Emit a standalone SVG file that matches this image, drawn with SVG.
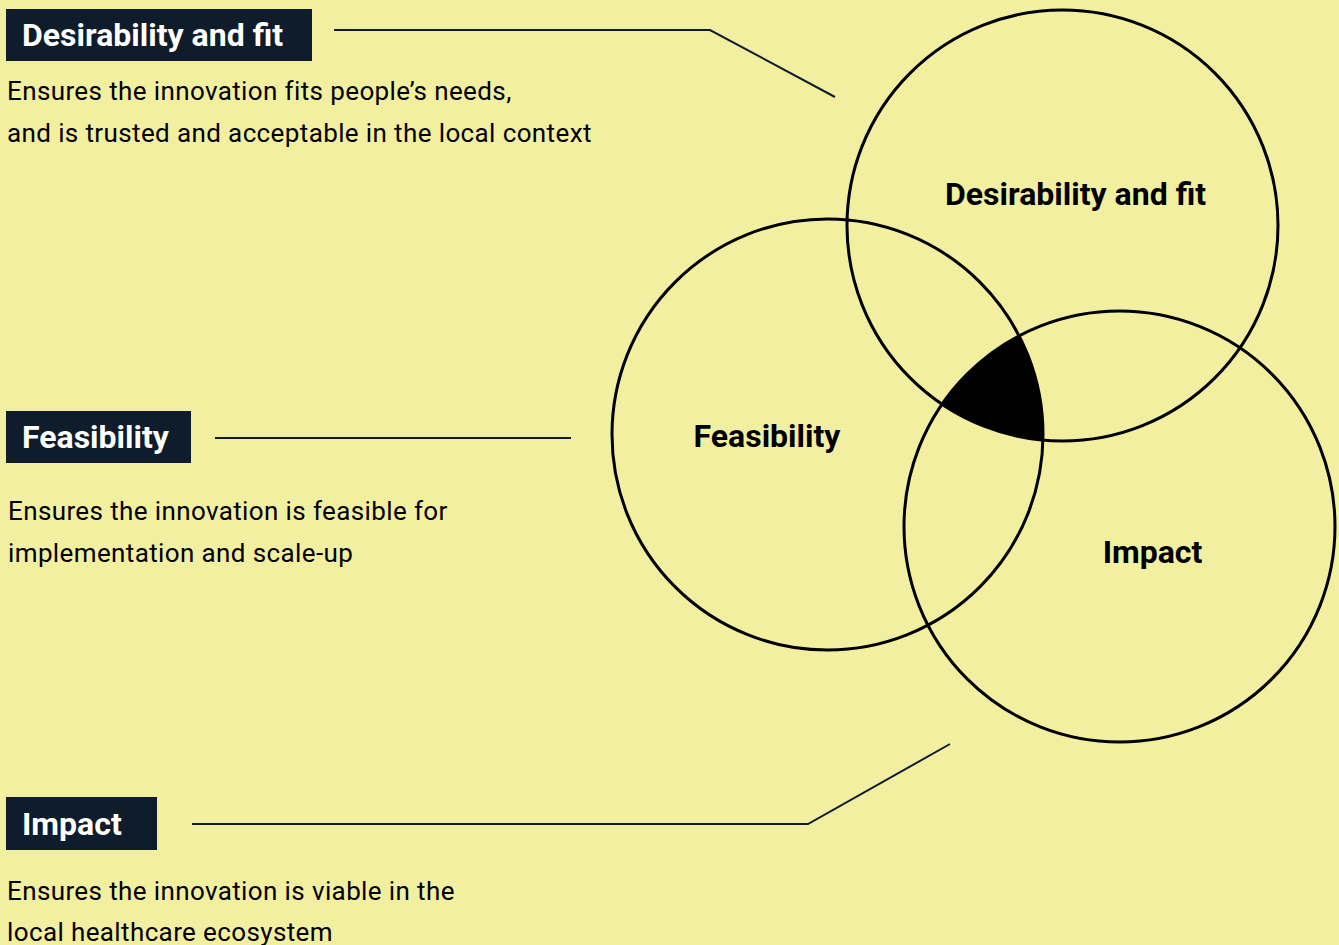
<svg xmlns="http://www.w3.org/2000/svg" width="1339" height="945" viewBox="0 0 1339 945">
<style>
.bg{fill:#f2f0a0}
.box{fill:#0e1c2c}
.lbl{font-family:Roboto,"Liberation Sans",sans-serif;font-weight:bold;font-size:32px;fill:#ffffff}
.desc{font-family:Roboto,"Liberation Sans",sans-serif;font-size:26px;letter-spacing:0.38px;fill:#000000}
.clbl{font-family:Roboto,"Liberation Sans",sans-serif;font-weight:bold;font-size:32px;fill:#000000;text-anchor:middle}
.circ{fill:none;stroke:#000000;stroke-width:3}
.conn{fill:none;stroke:#0e1c2c;stroke-width:2}
</style>
<rect class="bg" x="0" y="0" width="1339" height="945"/>
<g id="venn">
<path id="core" d="M1019.08 335.82 A215.5 215.5 0 0 1 1042.93 440.1 A215.5 215.5 0 0 1 942.07 404.2 A215.5 215.5 0 0 1 1019.08 335.82 Z" fill="#000000"/>
<g id="circle-desirability"><circle class="circ" cx="1062.5" cy="225.5" r="215.5"/><text class="clbl" x="1075.5" y="205">Desirability and fit</text></g>
<g id="circle-feasibility"><circle class="circ" cx="827.5" cy="434.5" r="215.5"/><text class="clbl" x="767" y="447">Feasibility</text></g>
<g id="circle-impact"><circle class="circ" cx="1119.5" cy="526.5" r="215.5"/><text class="clbl" x="1152.5" y="563">Impact</text></g>
</g>
<g id="connectors">
<polyline class="conn" points="334,30 710,30 835,97"/>
<polyline class="conn" points="215,438 571,438"/>
<polyline class="conn" points="192,824 808,824 950,744"/>
</g>
<g id="label-desirability">
<rect class="box" x="6" y="9" width="306" height="52"/>
<text class="lbl" x="22" y="46">Desirability and fit</text>
<text class="desc" x="7" y="100">Ensures the innovation fits people’s needs,</text>
<text class="desc" x="7" y="142">and is trusted and acceptable in the local context</text>
</g>
<g id="label-feasibility">
<rect class="box" x="6" y="411" width="185" height="52"/>
<text class="lbl" x="22" y="448">Feasibility</text>
<text class="desc" x="8" y="520">Ensures the innovation is feasible for</text>
<text class="desc" x="8" y="562">implementation and scale-up</text>
</g>
<g id="label-impact">
<rect class="box" x="6" y="797" width="151" height="53"/>
<text class="lbl" x="22" y="835">Impact</text>
<text class="desc" x="7" y="900">Ensures the innovation is viable in the</text>
<text class="desc" x="7" y="941">local healthcare ecosystem</text>
</g>
</svg>
